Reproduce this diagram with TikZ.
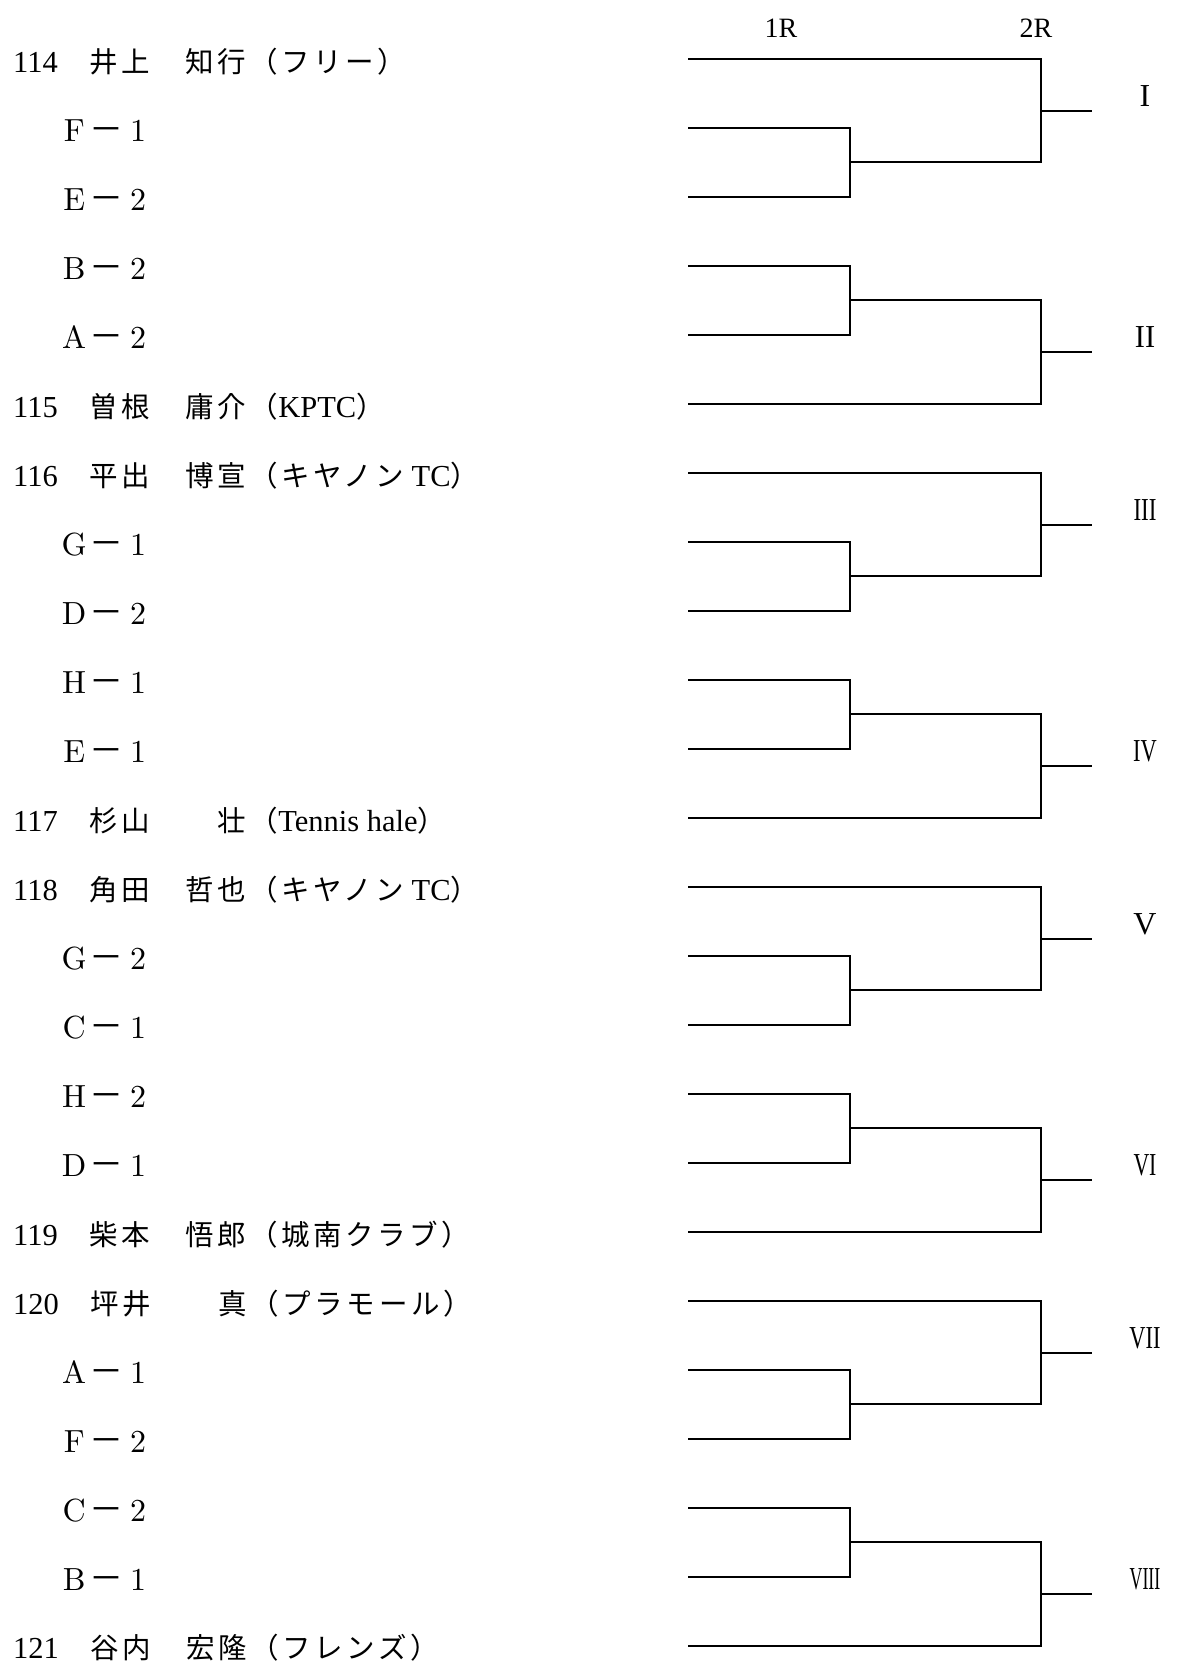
\documentclass[tikz,border=0pt]{standalone}
\usepackage{fontspec}
\setmainfont{Liberation Serif}
\newfontfamily\jp[LetterSpace=12.3]{Noto Sans CJK JP}
\newfontfamily\jpdash{Noto Sans CJK JP}
\newfontfamily\centfont{lmroman10-regular}[Extension=.otf]
\usetikzlibrary{positioning}
\newcommand\jpt{\fontsize{28.5}{32}\jp}
\newcommand\seed[2]{\makebox[32pt]{\fontsize{32}{36}\centfont #1}\makebox[32pt]{\fontsize{34}{36}\jpdash －}\makebox[32pt]{\fontsize{32}{36}\centfont #2}}
\newcommand\rnum[2]{\scalebox{#1}[1]{#2}}

\begin{document}
\begin{tikzpicture}[x=1pt, y=-1pt,
  entry/.style={anchor=base west, inner sep=0pt, font=\fontsize{30.5}{34}\selectfont},
  seedrow/.style={anchor=base west, inner sep=0pt},
  head/.style={anchor=base, inner sep=0pt, font=\fontsize{28}{32}\selectfont},
  roman/.style={inner sep=0pt, font=\fontsize{32}{36}\selectfont},
  br/.style={line width=2pt}]
\useasboundingbox (0,0) rectangle (1180,1662);
\node[head] (r1) at (781,38) {1R};
\node[head] (r2) at (1036,38) {2R};
% entries
\node[entry] (p114) at (13,72) {114{\jpt 　井上　知行（フリー）}};
\node[seedrow] (f1) at (58,141) {\seed{F}{1}};
\node[seedrow] (e2) at (58,210) {\seed{E}{2}};
\node[seedrow] (b2) at (58,279) {\seed{B}{2}};
\node[seedrow] (a2) at (58,348) {\seed{A}{2}};
\node[entry] (p115) at (13,417) {115{\jpt 　曽根　庸介（}KPTC{\jpt ）}};
\node[entry] (p116) at (13,486) {116{\jpt 　平出　博宣（キヤノン} TC{\jpt ）}};
\node[seedrow] (g1) at (58,555) {\seed{G}{1}};
\node[seedrow] (d2) at (58,624) {\seed{D}{2}};
\node[seedrow] (h1) at (58,693) {\seed{H}{1}};
\node[seedrow] (e1) at (58,762) {\seed{E}{1}};
\node[entry] (p117) at (13,831) {117{\jpt 　杉山　　壮（}Tennis hale{\jpt ）}};
\node[entry] (p118) at (13,900) {118{\jpt 　角田　哲也（キヤノン} TC{\jpt ）}};
\node[seedrow] (g2) at (58,969) {\seed{G}{2}};
\node[seedrow] (c1) at (58,1038) {\seed{C}{1}};
\node[seedrow] (h2) at (58,1107) {\seed{H}{2}};
\node[seedrow] (d1) at (58,1176) {\seed{D}{1}};
\node[entry] (p119) at (13,1245) {119{\jpt 　柴本　悟郎（城南クラブ）}};
\node[entry] (p120) at (13,1314) {120{\jpt 　坪井　　真（プラモール）}};
\node[seedrow] (a1) at (58,1383) {\seed{A}{1}};
\node[seedrow] (f2) at (58,1452) {\seed{F}{2}};
\node[seedrow] (c2) at (58,1521) {\seed{C}{2}};
\node[seedrow] (b1) at (58,1590) {\seed{B}{1}};
\node[entry] (p121) at (13,1658) {121{\jpt 　谷内　宏隆（フレンズ）}};
% line starts
\coordinate (s114) at (688,59);
\coordinate (sf1) at (688,128);
\coordinate (se2) at (688,197);
\coordinate (sb2) at (688,266);
\coordinate (sa2) at (688,335);
\coordinate (s115) at (688,404);
\coordinate (s116) at (688,473);
\coordinate (sg1) at (688,542);
\coordinate (sd2) at (688,611);
\coordinate (sh1) at (688,680);
\coordinate (se1) at (688,749);
\coordinate (s117) at (688,818);
\coordinate (s118) at (688,887);
\coordinate (sg2) at (688,956);
\coordinate (sc1) at (688,1025);
\coordinate (sh2) at (688,1094);
\coordinate (sd1) at (688,1163);
\coordinate (s119) at (688,1232);
\coordinate (s120) at (688,1301);
\coordinate (sa1) at (688,1370);
\coordinate (sf2) at (688,1439);
\coordinate (sc2) at (688,1508);
\coordinate (sb1) at (688,1577);
\coordinate (s121) at (688,1646);
% block I
\coordinate (m1) at (850,162); \coordinate (w1) at (1041,111); \coordinate (o1) at (1092,111);
\draw[br] (sf1) -| (m1) |- (se2);
\draw[br] (s114) -| (w1) |- (m1);
\draw[br] (w1) -- (o1);
\node[roman] (n1) at (1145,96) {I};
% block II
\coordinate (m2) at (850,300); \coordinate (w2) at (1041,352); \coordinate (o2) at (1092,352);
\draw[br] (sb2) -| (m2) |- (sa2);
\draw[br] (m2) -| (w2) |- (s115);
\draw[br] (w2) -- (o2);
\node[roman] (n2) at (1145,337) {\rnum{0.95}{II}};
% block III
\coordinate (m3) at (850,576); \coordinate (w3) at (1041,525); \coordinate (o3) at (1092,525);
\draw[br] (sg1) -| (m3) |- (sd2);
\draw[br] (s116) -| (w3) |- (m3);
\draw[br] (w3) -- (o3);
\node[roman] (n3) at (1145,510) {\rnum{0.72}{III}};
% block IV
\coordinate (m4) at (850,714); \coordinate (w4) at (1041,766); \coordinate (o4) at (1092,766);
\draw[br] (sh1) -| (m4) |- (se1);
\draw[br] (m4) -| (w4) |- (s117);
\draw[br] (w4) -- (o4);
\node[roman] (n4) at (1145,751) {\rnum{0.7}{IV}};
% block V
\coordinate (m5) at (850,990); \coordinate (w5) at (1041,939); \coordinate (o5) at (1092,939);
\draw[br] (sg2) -| (m5) |- (sc1);
\draw[br] (s118) -| (w5) |- (m5);
\draw[br] (w5) -- (o5);
\node[roman] (n5) at (1145,924) {V};
% block VI
\coordinate (m6) at (850,1128); \coordinate (w6) at (1041,1180); \coordinate (o6) at (1092,1180);
\draw[br] (sh2) -| (m6) |- (sd1);
\draw[br] (m6) -| (w6) |- (s119);
\draw[br] (w6) -- (o6);
\node[roman] (n6) at (1145,1165) {\rnum{0.68}{VI}};
% block VII
\coordinate (m7) at (850,1404); \coordinate (w7) at (1041,1353); \coordinate (o7) at (1092,1353);
\draw[br] (sa1) -| (m7) |- (sf2);
\draw[br] (s120) -| (w7) |- (m7);
\draw[br] (w7) -- (o7);
\node[roman] (n7) at (1145,1338) {\rnum{0.7}{VII}};
% block VIII
\coordinate (m8) at (850,1542); \coordinate (w8) at (1041,1594); \coordinate (o8) at (1092,1594);
\draw[br] (sc2) -| (m8) |- (sb1);
\draw[br] (m8) -| (w8) |- (s121);
\draw[br] (w8) -- (o8);
\node[roman] (n8) at (1145,1579) {\rnum{0.56}{VIII}};
\end{tikzpicture}
\end{document}
